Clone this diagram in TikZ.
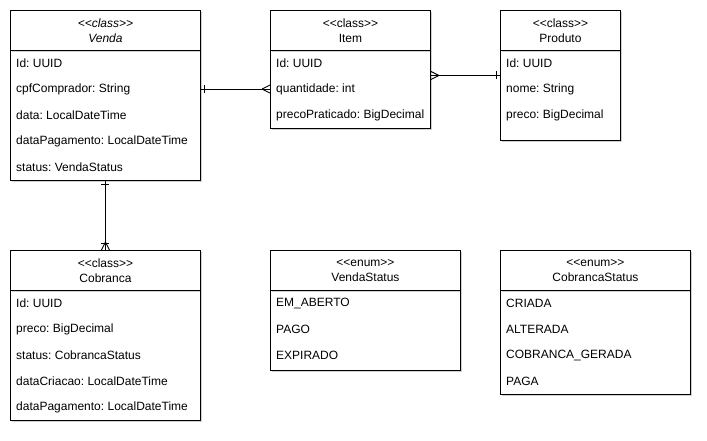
\documentclass[tikz,border=0pt]{standalone}
\usepackage{fontspec}
\setmainfont{Liberation Sans}[Ligatures=TeXOff]
\usetikzlibrary{shadows,calc}
\frenchspacing
\begin{document}
\frenchspacing
\begin{tikzpicture}[x=1pt,y=-1pt,
  box/.style={draw, line width=0.9pt, fill=white, anchor=north west, inner sep=0pt,
    drop shadow={shadow xshift=2pt, shadow yshift=-2pt, opacity=0.18, fill=black}},
  hdr/.style={align=center, inner sep=0pt, font=\fontsize{12}{15}\selectfont},
  attr/.style={anchor=west, inner sep=0pt, font=\fontsize{12}{14}\selectfont},
  conn/.style={line width=0.9pt}]
\useasboundingbox (0,0) rectangle (707,440);

% Venda
\node[box, minimum width=190pt, minimum height=130pt] (vendab) at (10,50) {};
\node[box, minimum width=190pt, minimum height=40pt] (vendah) at (10,10) {};
\node[hdr] (vendat) at (vendah.center) {\textit{<<class>>}\\\textit{Venda}};
\node[attr] (v1) at (16,63) {Id: UUID};
\node[attr] (v2) at (16,89) {cpfComprador: String};
\node[attr] (v3) at (16,115) {data: LocalDateTime};
\node[attr] (v4) at (16,141) {dataPagamento: LocalDateTime};
\node[attr] (v5) at (16,167) {status: VendaStatus};

% Item
\node[box, minimum width=160pt, minimum height=78pt] (itemb) at (270,50) {};
\node[box, minimum width=160pt, minimum height=40pt] (itemh) at (270,10) {};
\node[hdr] (itemt) at (itemh.center) {<<class>>\\Item};
\node[attr] (i1) at (276,63) {Id: UUID};
\node[attr] (i2) at (276,89) {quantidade: int};
\node[attr] (i3) at (276,115) {precoPraticado: BigDecimal};

% Produto
\node[box, minimum width=120pt, minimum height=90pt] (prodb) at (500,50) {};
\node[box, minimum width=120pt, minimum height=40pt] (prodh) at (500,10) {};
\node[hdr] (prodt) at (prodh.center) {<<class>>\\Produto};
\node[attr] (p1) at (506,63) {Id: UUID};
\node[attr] (p2) at (506,89) {nome: String};
\node[attr] (p3) at (506,115) {preco: BigDecimal};

% Cobranca
\node[box, minimum width=190pt, minimum height=130pt] (cobb) at (10,290) {};
\node[box, minimum width=190pt, minimum height=40pt] (cobh) at (10,250) {};
\node[hdr] (cobt) at (cobh.center) {<<class>>\\Cobranca};
\node[attr] (c1) at (16,303) {Id: UUID};
\node[attr] (c2) at (16,329) {preco: BigDecimal};
\node[attr] (c3) at (16,355) {status: CobrancaStatus};
\node[attr] (c4) at (16,381) {dataCriacao: LocalDateTime};
\node[attr] (c5) at (16,407) {dataPagamento: LocalDateTime};

% VendaStatus
\node[box, minimum width=190pt, minimum height=80pt] (vsb) at (270,290) {};
\node[box, minimum width=190pt, minimum height=40pt] (vsh) at (270,250) {};
\node[hdr] (vst) at (vsh.center) {<<enum>>\\VendaStatus};
\node[attr] (s1) at (276,303) {EM\_ABERTO};
\node[attr] (s2) at (276,329) {PAGO};
\node[attr] (s3) at (276,355) {EXPIRADO};

% CobrancaStatus
\node[box, minimum width=190pt, minimum height=104pt] (csb) at (500,290) {};
\node[box, minimum width=190pt, minimum height=40pt] (csh) at (500,250) {};
\node[hdr] (cst) at (csh.center) {<<enum>>\\CobrancaStatus};
\node[attr] (t1) at (506,303) {CRIADA};
\node[attr] (t2) at (506,329) {ALTERADA};
\node[attr] (t3) at (506,355) {COBRANCA\_GERADA};
\node[attr] (t4) at (506,381) {PAGA};

% Connectors
% Venda -- Item (one to many)
\coordinate (a1) at (vendab.east |- v2);
\coordinate (a2) at (itemb.west |- v2);
\draw[conn] (a1) -- (a2);
\draw[conn] ($(a1)+(4,-4)$) -- ($(a1)+(4,4)$);
\draw[conn] ($(a2)+(-8,0)$) -- ($(a2)+(0,-4)$);
\draw[conn] ($(a2)+(-8,0)$) -- ($(a2)+(0,4)$);

% Item -- Produto (many to one)
\coordinate (b1) at ($(itemb.east)+(0,-14)$);
\coordinate (b2) at (prodb.west |- b1);
\draw[conn] (b1) -- (b2);
\draw[conn] ($(b1)+(8,0)$) -- ($(b1)+(0,-4)$);
\draw[conn] ($(b1)+(8,0)$) -- ($(b1)+(0,4)$);
\draw[conn] ($(b2)+(-4,-4)$) -- ($(b2)+(-4,4)$);

% Venda -- Cobranca (one to one-or-many)
\coordinate (c1s) at (vendab.south);
\coordinate (c2s) at (cobh.north);
\draw[conn] (c1s) -- (c2s);
\draw[conn] ($(c1s)+(-4,4)$) -- ($(c1s)+(4,4)$);
\draw[conn] ($(c2s)+(-4,-7)$) -- ($(c2s)+(4,-7)$);
\draw[conn] ($(c2s)+(0,-8)$) -- ($(c2s)+(-4,0)$);
\draw[conn] ($(c2s)+(0,-8)$) -- ($(c2s)+(4,0)$);
\end{tikzpicture}
\end{document}
